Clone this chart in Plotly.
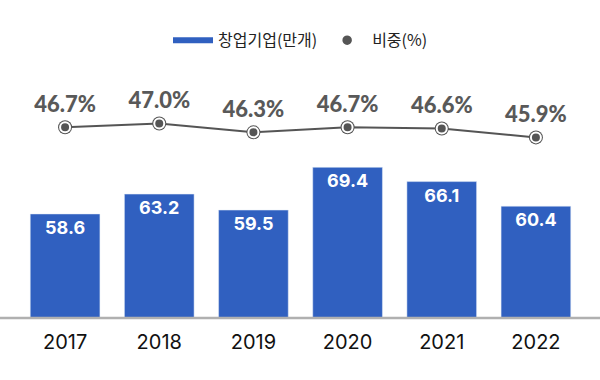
import plotly.graph_objects as go

years = ["2017", "2018", "2019", "2020", "2021", "2022"]
startups = [58.6, 63.2, 59.5, 69.4, 66.1, 60.4]
share = [46.7, 47.0, 46.3, 46.7, 46.6, 45.9]
bar_name = "창업기업(만개)"
line_name = "비중(%)"

BLUE = "#3060c0"
GRAY = "#555555"

fig = go.Figure()

fig.add_trace(go.Bar(
    x=years, y=startups, marker_color=BLUE, showlegend=False,
    texttemplate="%{y:.1f}", textposition="inside", insidetextanchor="end",
    textfont=dict(family="Inter", size=18, color="white", weight="bold"),
    hoverinfo="skip", cliponaxis=False,
))

# line + outer marker ring
fig.add_trace(go.Scatter(
    x=years, y=share, yaxis="y2", mode="lines+markers+text", showlegend=False,
    line=dict(color=GRAY, width=2),
    marker=dict(size=14, color=GRAY),
    text=[f"{v:.1f}%" for v in share], textposition="top center",
    textfont=dict(family="Lato", size=22, color="#595959", weight=900),
    cliponaxis=False,
))
fig.add_trace(go.Scatter(
    x=years, y=share, yaxis="y2", mode="markers", showlegend=False,
    marker=dict(size=10, color=GRAY, line=dict(color="white", width=2)),
    cliponaxis=False,
))

# legend entries
fig.add_trace(go.Scatter(
    x=[None], y=[None], mode="lines", name=bar_name,
    line=dict(color=BLUE, width=6),
))
fig.add_trace(go.Scatter(
    x=[None], y=[None], mode="markers", name=line_name,
    marker=dict(size=11, color=GRAY, line=dict(color="white", width=1.5)),
))

fig.update_layout(
    width=600, height=380,
    margin=dict(l=18, r=17, t=62, b=62, autoexpand=False),
    paper_bgcolor="white", plot_bgcolor="white",
    bargap=0.26,
    font=dict(family="Noto Sans CJK KR", color="#222"),
    xaxis=dict(
        showgrid=False, showline=False, zeroline=False,
        ticks="outside", ticklen=6, tickcolor="rgba(0,0,0,0)",
        tickfont=dict(family="Inter", size=20, color="#111"),
    ),
    yaxis=dict(range=[34.5, 93.8], visible=False),
    yaxis2=dict(range=[31.57, 51.88], overlaying="y", visible=False),
    legend=dict(
        orientation="h", x=0.5, xanchor="center", y=1.085, yanchor="middle",
        font=dict(family="Noto Sans CJK KR", size=16, color="#222"),
        itemwidth=40, traceorder="normal",
    ),
    shapes=[dict(type="line", xref="paper", yref="paper",
                 x0=-0.04, x1=1.04, y0=0, y1=0,
                 line=dict(color="#b0b0b0", width=2.5), layer="above")],
)

fig.write_html("out.html", config={"displayModeBar": False},
               post_script="document.body.style.margin='0';")
